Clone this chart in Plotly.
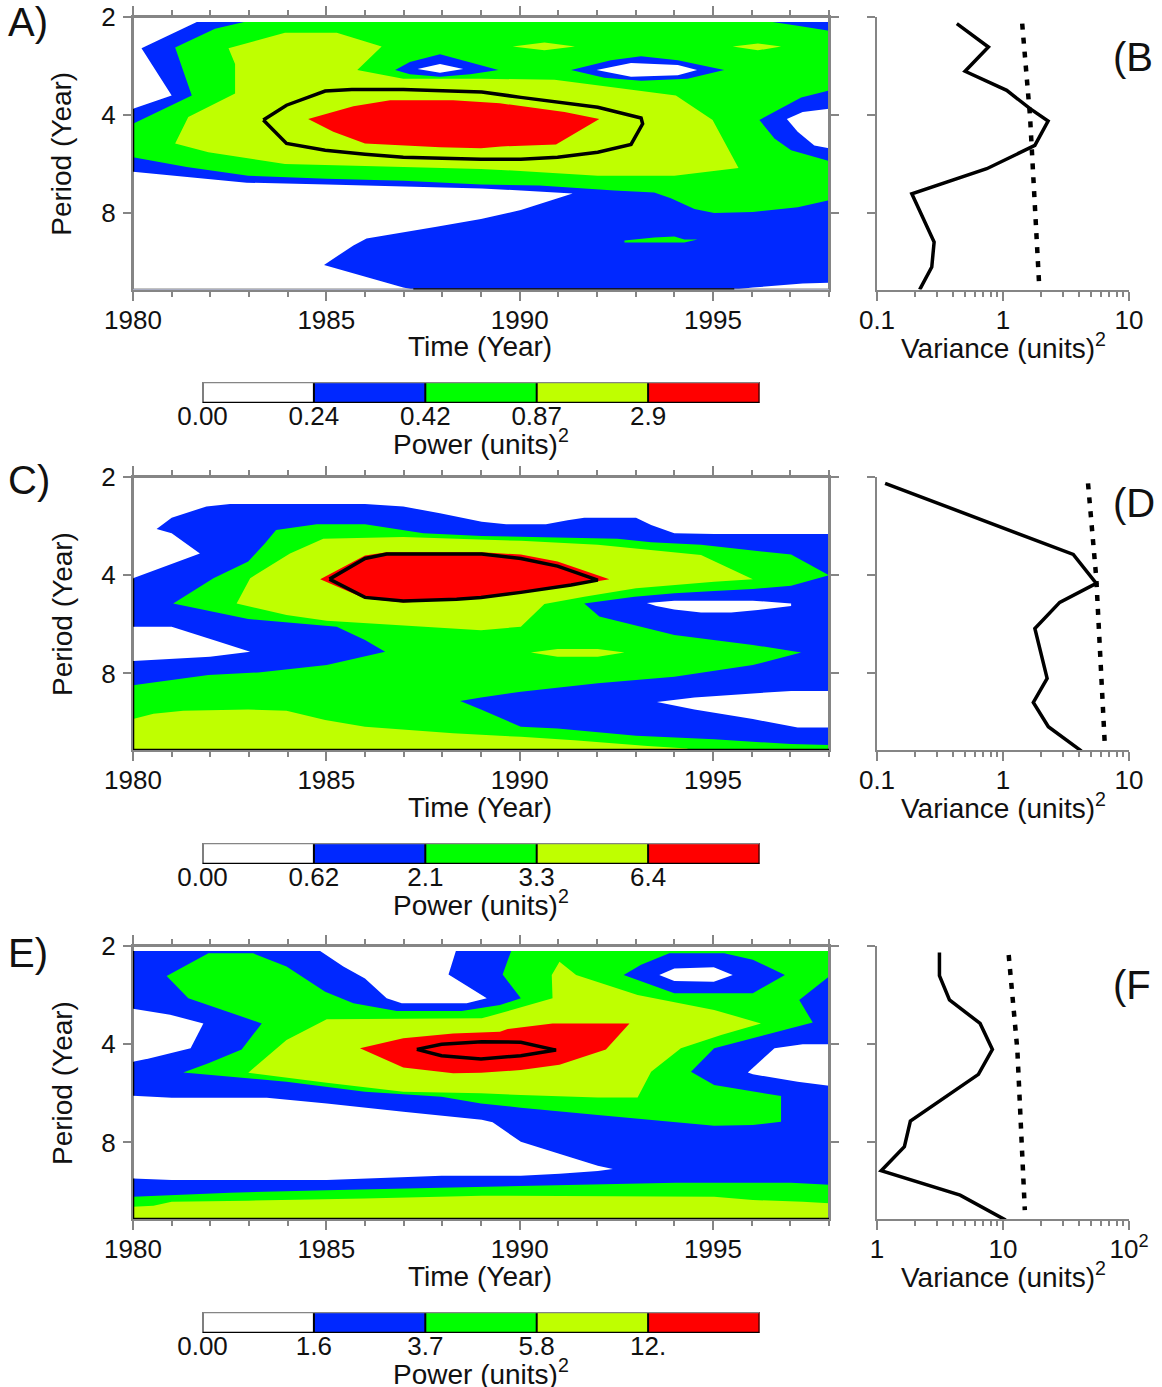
import math
import plotly.graph_objects as go

# ---------- colours and levels ----------
WHITE, BLUE, GREEN, YELLOW, RED = "#ffffff", "#0028ff", "#00ff00", "#bfff00", "#ff0000"
GRAY = "#858585"
FONT = "Liberation Sans"
CELL_COLORS = [WHITE, BLUE, GREEN, YELLOW, RED]
YEAR_MIN, YEAR_MAX = 1980, 1998
LOG2_TOP, LOG2_BOTTOM = 1, 3.78            # log2(period): 2 yr ... ~13.7 yr
PERIOD_TICKS = [1, 2, 3]
PERIOD_LABELS = ["2", "4", "8"]

# ---------- contour regions, (year, log2 period) ----------
FULL_FIELD = [(1980, 1.05), (1998, 1.05), (1998, 3.78), (1980, 3.78)]

A_WHITE_TL = [(1980, 1.05), (1981.65, 1.05), (1980.22, 1.32), (1981.0, 1.80), (1980, 1.935)]
A_WHITE_MAIN = [(1980, 2.58), (1981.39, 2.63), (1982.94, 2.69), (1985.01, 2.71), (1986.99, 2.73), (1989.02, 2.75),
                (1990.03, 2.77), (1991.37, 2.80), (1990.03, 2.97), (1989.0, 3.06), (1987.85, 3.14), (1986.04, 3.26),
                (1985.70, 3.33), (1984.94, 3.53), (1986.99, 3.76), (1987.25, 3.78), (1980, 3.78)]
A_WHITE_BR = [(1995.55, 3.78), (1996.03, 3.76), (1997.32, 3.72), (1998, 3.71), (1998, 3.78)]
A_GREEN = [(1982.87, 1.05), (1996.54, 1.05), (1997.19, 1.09), (1998, 1.14), (1998, 2.87), (1997.19, 2.94), (1996.03, 2.99),
           (1995.03, 3.00), (1994.52, 2.96), (1993.91, 2.85), (1993.48, 2.79), (1992.45, 2.77), (1990.51, 2.72),
           (1989.0, 2.71), (1986.99, 2.67), (1985.01, 2.65), (1982.98, 2.62), (1981.39, 2.53), (1980, 2.43), (1980, 2.09),
           (1981.52, 1.80), (1981.09, 1.31), (1982.12, 1.12)]
A_BLUE_1 = [(1986.78, 1.54), (1987.16, 1.46), (1987.94, 1.38), (1988.72, 1.46), (1989.45, 1.54), (1988.72, 1.585),
            (1987.94, 1.61), (1987.16, 1.585)]
A_WHITE_1 = [(1987.36, 1.53), (1987.94, 1.48), (1988.54, 1.53), (1987.94, 1.57)]
A_BLUE_2 = [(1991.33, 1.54), (1992.36, 1.44), (1993.14, 1.40), (1994.09, 1.44), (1995.29, 1.54), (1994.34, 1.63),
            (1993.14, 1.65), (1992.19, 1.62)]
A_WHITE_2 = [(1991.99, 1.54), (1992.88, 1.47), (1994.09, 1.49), (1994.59, 1.54), (1994.09, 1.595), (1992.88, 1.61)]
A_BLUE_3 = [(1998, 1.75), (1997.28, 1.82), (1996.20, 2.05), (1996.59, 2.24), (1997.02, 2.36), (1998, 2.47)]
A_WHITE_3 = [(1998, 1.935), (1997.32, 1.97), (1996.91, 2.04), (1997.19, 2.17), (1997.62, 2.31), (1998, 2.34)]
A_YELLOW = [(1982.47, 1.32), (1983.93, 1.16), (1985.27, 1.16), (1986.43, 1.30), (1985.80, 1.54), (1986.99, 1.63),
            (1989, 1.63), (1990.90, 1.64), (1992.45, 1.72), (1994.04, 1.80), (1994.99, 2.05), (1995.66, 2.54), (1994, 2.62),
            (1992.02, 2.62), (1989.52, 2.56), (1989, 2.55), (1986, 2.52), (1983.93, 2.50), (1981.95, 2.38), (1981.09, 2.29),
            (1981.43, 2.02), (1982.64, 1.78), (1982.64, 1.48)]
A_YELLOW_P1 = [(1989.82, 1.30), (1990.64, 1.26), (1991.43, 1.30), (1990.64, 1.34)]
A_YELLOW_P2 = [(1995.51, 1.30), (1996.16, 1.27), (1996.76, 1.30), (1996.16, 1.34)]
A_GREEN_P = [(1992.71, 3.28), (1993.48, 3.25), (1994, 3.24), (1994.26, 3.27), (1994.60, 3.27), (1994.26, 3.30), (1992.71, 3.30)]
A_RED = [(1984.53, 2.04), (1985.70, 1.91), (1986.65, 1.85), (1988.28, 1.85), (1989.49, 1.88), (1989.86, 1.90), (1991.16, 1.97),
         (1992.06, 2.04), (1990.94, 2.30), (1989.52, 2.32), (1989, 2.34), (1987.94, 2.33), (1986, 2.29), (1985.18, 2.17)]
A_CONTOUR = [(1983.37, 2.05), (1983.97, 1.90), (1984.97, 1.755), (1985.66, 1.74), (1986.99, 1.74), (1989.02, 1.765),
             (1990.03, 1.82), (1992.02, 1.92), (1993.14, 2.03), (1993.18, 2.09), (1992.88, 2.30), (1992.02, 2.38),
             (1990.98, 2.43), (1990.03, 2.45), (1989, 2.45), (1986.99, 2.43), (1986, 2.40), (1984.97, 2.36), (1983.97, 2.29),
             (1983.37, 2.05)]
A_LAYERS = [(BLUE, FULL_FIELD), (WHITE, A_WHITE_TL), (WHITE, A_WHITE_MAIN), (WHITE, A_WHITE_BR), (GREEN, A_GREEN),
            (BLUE, A_BLUE_1), (WHITE, A_WHITE_1), (BLUE, A_BLUE_2), (WHITE, A_WHITE_2), (BLUE, A_BLUE_3), (WHITE, A_WHITE_3),
            (YELLOW, A_YELLOW), (YELLOW, A_YELLOW_P1), (YELLOW, A_YELLOW_P2), (GREEN, A_GREEN_P), (RED, A_RED)]
A_EDGES = [([1980, 1980], [1.935, 2.58]), ([1987.25, 1995.55], [3.78, 3.78])]

C_BLUE = [(1980.61, 1.53), (1981, 1.414), (1981.90, 1.30), (1982.51, 1.275), (1986, 1.275), (1986.99, 1.30), (1987.94, 1.37),
          (1989.02, 1.455), (1989.65, 1.48), (1990.68, 1.48), (1991.24, 1.44), (1991.67, 1.414), (1993.01, 1.414),
          (1993.40, 1.49), (1994, 1.574), (1995.03, 1.58), (1998, 1.58), (1998, 3.78), (1980, 3.78), (1980, 2.03),
          (1981.73, 1.78), (1981, 1.574)]
C_WHITE_1 = [(1980, 2.525), (1981, 2.525), (1982.08, 2.66), (1983.03, 2.78), (1981.99, 2.83), (1980, 2.874)]
C_WHITE_2 = [(1993.29, 2.284), (1994, 2.26), (1996.03, 2.26), (1997.02, 2.287), (1997.02, 2.314), (1996.16, 2.355),
             (1995.47, 2.38), (1994.69, 2.38), (1994, 2.348), (1993.53, 2.314)]
C_WHITE_3 = [(1993.55, 3.29), (1994.52, 3.245), (1996.03, 3.204), (1997.02, 3.18), (1998, 3.18), (1998, 3.55), (1997.19, 3.55),
             (1996.03, 3.465), (1994.52, 3.367)]
C_GREEN = [(1981.04, 2.287), (1982.08, 2.03), (1982.98, 1.86), (1983.41, 1.676), (1983.70, 1.54), (1984.75, 1.48), (1986, 1.48),
           (1987.51, 1.574), (1989.02, 1.60), (1990.03, 1.61), (1992.53, 1.63), (1993.40, 1.665), (1994.69, 1.69), (1997.02, 1.79),
           (1997.36, 1.86), (1998, 2.0), (1997.02, 2.107), (1996.03, 2.14), (1995.03, 2.16), (1994, 2.185), (1992.97, 2.22),
           (1991.67, 2.287), (1992.06, 2.42), (1994, 2.61), (1996.03, 2.71), (1997.28, 2.786), (1996.03, 2.915), (1994, 3.034),
           (1992.02, 3.10), (1990.03, 3.187), (1989, 3.245), (1988.46, 3.28), (1989, 3.367), (1990.03, 3.543), (1990.98, 3.56),
           (1993.01, 3.635), (1995.03, 3.67), (1997.02, 3.72), (1998, 3.73), (1998, 3.78), (1980, 3.78), (1980, 3.12),
           (1981.95, 3.017), (1983.24, 2.99), (1985.01, 2.915), (1986.52, 2.78), (1986, 2.66), (1985.27, 2.525), (1982.98, 2.446)]
C_YELLOW = [(1982.68, 2.287), (1983.03, 2.03), (1984.06, 1.78), (1984.92, 1.63), (1986.99, 1.61), (1989.49, 1.64), (1990.03, 1.65),
            (1992.02, 1.69), (1994, 1.767), (1994.69, 1.795), (1996.03, 2.04), (1995.03, 2.066), (1993.01, 2.134), (1991.67, 2.22),
            (1990.64, 2.294), (1990.03, 2.525), (1989, 2.56), (1986.99, 2.51), (1985.01, 2.463), (1983.97, 2.406)]
C_YELLOW_LOW = [(1980, 3.465), (1980.53, 3.41), (1981.30, 3.38), (1982.98, 3.367), (1983.97, 3.38), (1984.97, 3.475), (1986, 3.543),
                (1988.28, 3.61), (1989.49, 3.635), (1990.03, 3.645), (1991.41, 3.68), (1993.31, 3.74), (1994.34, 3.764),
                (1994.34, 3.78), (1980, 3.78)]
C_YELLOW_P = [(1990.29, 2.786), (1990.98, 2.752), (1992.02, 2.752), (1992.71, 2.786), (1992.02, 2.83), (1990.98, 2.83)]
C_RED = [(1984.84, 2.04), (1986, 1.80), (1986.56, 1.767), (1989.02, 1.767), (1990.03, 1.79), (1990.98, 1.86), (1992.32, 2.04),
         (1991.59, 2.09), (1990.03, 2.185), (1989, 2.236), (1988.28, 2.25), (1986.99, 2.277), (1986, 2.236)]
C_CONTOUR = [(1985.08, 2.04), (1986, 1.83), (1986.56, 1.785), (1989.02, 1.785), (1990.03, 1.83), (1990.98, 1.907), (1992.02, 2.05),
             (1991.33, 2.10), (1990.03, 2.175), (1989, 2.226), (1988.37, 2.246), (1986.99, 2.263), (1986, 2.226), (1985.08, 2.04)]
C_LAYERS = [(BLUE, C_BLUE), (WHITE, C_WHITE_1), (WHITE, C_WHITE_2), (WHITE, C_WHITE_3), (GREEN, C_GREEN), (YELLOW, C_YELLOW),
            (YELLOW, C_YELLOW_LOW), (YELLOW, C_YELLOW_P), (RED, C_RED)]
C_EDGES = [([1980, 1980], [2.03, 2.525]), ([1980, 1980], [2.874, 3.78]), ([1980, 1998], [3.78, 3.78])]

E_WHITE_1 = [(1984.84, 1.05), (1985.44, 1.21), (1986, 1.33), (1986.56, 1.533), (1986.95, 1.584), (1988.63, 1.584), (1989.15, 1.533),
             (1988.16, 1.29), (1988.35, 1.05)]
E_WHITE_2 = [(1980, 1.64), (1980.96, 1.70), (1981.82, 1.788), (1981.49, 2.042), (1980.44, 2.144), (1980, 2.178)]
E_WHITE_3 = [(1980, 2.525), (1981, 2.545), (1983.46, 2.545), (1985.01, 2.603), (1986.99, 2.688), (1989.02, 2.77), (1989.30, 2.796),
             (1990.03, 2.993), (1990.98, 3.11), (1992.02, 3.238), (1992.41, 3.27), (1992.02, 3.29), (1991.03, 3.32), (1990.03, 3.34),
             (1989, 3.34), (1987.98, 3.34), (1985.01, 3.384), (1981, 3.384), (1980, 3.367)]
E_WHITE_4 = [(1995.90, 2.287), (1996.59, 2.042), (1997.32, 2.0), (1998, 2.0), (1998, 2.423), (1997.19, 2.382), (1996.03, 2.307)]
E_GREEN = [(1980.87, 1.305), (1981.95, 1.075), (1983.11, 1.075), (1983.97, 1.21), (1984.97, 1.465), (1985.70, 1.584), (1986.82, 1.662),
           (1988.50, 1.662), (1989.49, 1.60), (1990.03, 1.533), (1989.56, 1.29), (1989.78, 1.05), (1998, 1.05), (1998, 1.31),
           (1997.23, 1.55), (1997.58, 1.78), (1995.03, 2.042), (1994.43, 2.28), (1995.03, 2.416), (1996.76, 2.528), (1996.76, 2.79),
           (1996.03, 2.823), (1995.03, 2.83), (1994, 2.79), (1992.02, 2.72), (1990.03, 2.647), (1989, 2.603), (1987.98, 2.535),
           (1986, 2.484), (1983.97, 2.382), (1981.30, 2.287), (1981.95, 2.195), (1982.81, 2.053), (1983.33, 1.788), (1981.43, 1.533)]
E_BLUE_LENS = [(1992.69, 1.295), (1993.14, 1.19), (1993.87, 1.075), (1995.29, 1.075), (1996.03, 1.14), (1996.86, 1.295),
               (1996.03, 1.48), (1994, 1.48)]
E_WHITE_LENS = [(1993.61, 1.295), (1994, 1.23), (1995.02, 1.217), (1995.51, 1.295), (1995.02, 1.363), (1994, 1.357)]
E_YELLOW = [(1982.98, 2.29), (1983.97, 1.958), (1985.01, 1.747), (1989.02, 1.737), (1990.85, 1.533), (1990.83, 1.295), (1991.03, 1.16),
            (1991.46, 1.295), (1993.05, 1.50), (1995.03, 1.652), (1996.24, 1.788), (1995.21, 1.907), (1994.17, 2.042), (1993.40, 2.28),
            (1993.05, 2.542), (1992.02, 2.542), (1990.03, 2.518), (1989, 2.50), (1986.99, 2.484), (1985.01, 2.392)]
E_RED = [(1985.87, 2.042), (1986.99, 1.94), (1988.28, 1.89), (1989.49, 1.873), (1989.69, 1.845), (1990.85, 1.788), (1992.84, 1.788),
         (1992.23, 2.053), (1991.03, 2.21), (1990.03, 2.263), (1989, 2.29), (1988.28, 2.297), (1986.99, 2.236)]
E_CONTOUR = [(1987.34, 2.053), (1987.98, 2.0), (1989.02, 1.975), (1990.03, 1.98), (1990.94, 2.06), (1990.03, 2.117), (1989, 2.15),
             (1987.98, 2.117), (1987.34, 2.053)]
E_GREEN_LOW = [(1980, 3.553), (1982.51, 3.513), (1985.01, 3.486), (1986.99, 3.47), (1989.02, 3.45), (1992.02, 3.43), (1994.04, 3.41),
               (1997.02, 3.41), (1998, 3.43), (1998, 3.78), (1980, 3.78)]
E_YELLOW_LOW = [(1980, 3.655), (1980.53, 3.645), (1981, 3.604), (1982.98, 3.594), (1986, 3.57), (1989.02, 3.543), (1995.03, 3.553),
                (1996.03, 3.587), (1997.32, 3.604), (1998, 3.62), (1998, 3.78), (1980, 3.78)]
E_LAYERS = [(BLUE, FULL_FIELD), (WHITE, E_WHITE_1), (WHITE, E_WHITE_2), (WHITE, E_WHITE_3), (WHITE, E_WHITE_4), (GREEN, E_GREEN),
            (BLUE, E_BLUE_LENS), (WHITE, E_WHITE_LENS), (YELLOW, E_YELLOW), (GREEN, E_GREEN_LOW), (YELLOW, E_YELLOW_LOW), (RED, E_RED)]
E_EDGES = [([1980, 1980], [1.05, 1.64]), ([1980, 1980], [2.178, 2.525]), ([1980, 1980], [3.367, 3.78]), ([1980, 1998], [3.78, 3.78])]

# ---------- global wavelet spectra ----------
B_LOG2 = [1.068, 1.306, 1.554, 1.748, 1.935, 2.061, 2.31, 2.548, 2.803, 3.296, 3.551, 3.782]
B_VAR = [0.43, 0.766, 0.50, 1.07, 1.64, 2.28, 1.79, 0.743, 0.189, 0.284, 0.272, 0.218]
B_SIG_LOG2 = [1.068, 2.02, 3.70]
B_SIG = [1.42, 1.64, 1.93]
D_LOG2 = [1.065, 1.788, 2.083, 2.277, 2.542, 3.051, 3.295, 3.543, 3.791]
D_VAR = [0.116, 3.61, 5.5, 2.82, 1.79, 2.24, 1.74, 2.29, 4.2]
D_SIG_LOG2 = [1.065, 2.032, 3.696]
D_SIG = [4.73, 5.5, 6.41]
F_LOG2 = [1.065, 1.302, 1.55, 1.788, 2.053, 2.307, 2.783, 3.044, 3.289, 3.537, 3.791]
F_VAR = [3.13, 3.13, 3.76, 6.58, 8.24, 6.38, 1.84, 1.65, 1.08, 4.57, 10.5]
F_SIG_LOG2 = [1.092, 2.059, 3.689]
F_SIG = [11.1, 13.0, 14.9]

# ---------- axis labels ----------
YEAR_TICKS = [1980, 1985, 1990, 1995]
CB_A = ["0.00", "0.24", "0.42", "0.87", "2.9"]
CB_C = ["0.00", "0.62", "2.1", "3.3", "6.4"]
CB_E = ["0.00", "1.6", "3.7", "5.8", "12."]
VAR_TICKS_AC = [0.1, 1, 10]
VAR_LABELS_AC = ["0.1", "1", "10"]
VAR_MINOR_AC = [0.2, 0.3, 0.4, 0.5, 0.6, 0.7, 0.8, 0.9, 2, 3, 4, 5, 6, 7, 8, 9]
VAR_TICKS_E = [1, 10, 100]
VAR_LABELS_E = ["1", "10", "10<sup>2</sup>"]
VAR_MINOR_E = [2, 3, 4, 5, 6, 7, 8, 9, 20, 30, 40, 50, 60, 70, 80, 90]
MARK_YEAR = 1986.3
MARK_LOG2 = 0.905

W, H = 1162, 1387
fig = go.Figure()
ann = []


def dom_x(a, b):
    return [a / W, b / W]


def dom_y(top, bottom):
    return [1 - bottom / H, 1 - top / H]


def text(s, x, y, size, angle=0, xanchor="center"):
    ann.append(dict(text=s, x=x / W, y=1 - y / H, xref="paper", yref="paper", showarrow=False, textangle=angle,
                    xanchor=xanchor, yanchor="middle", font=dict(family=FONT, size=size, color="#111111"), borderpad=0))


layout = {}
PANELS = [
    (1, 17, 289.5, A_LAYERS, A_CONTOUR, A_EDGES, B_VAR, B_LOG2, B_SIG, B_SIG_LOG2, CB_A, VAR_TICKS_AC, VAR_LABELS_AC, VAR_MINOR_AC, 382, "A)", "(B", 22, 57),
    (4, 477, 750, C_LAYERS, C_CONTOUR, C_EDGES, D_VAR, D_LOG2, D_SIG, D_SIG_LOG2, CB_C, VAR_TICKS_AC, VAR_LABELS_AC, VAR_MINOR_AC, 843, "C)", "(D", 480, 503),
    (7, 946, 1219, E_LAYERS, E_CONTOUR, E_EDGES, F_VAR, F_LOG2, F_SIG, F_SIG_LOG2, CB_E, VAR_TICKS_E, VAR_LABELS_E, VAR_MINOR_E, 1312, "E)", "(F", 953, 985),
]
for (n, top, bot, layers, contour, edges, var, var_y, sig, sig_y, cb, vt, vl, vm, cb_top, lab_l, lab_r, ly_l, ly_r) in PANELS:
    ax, ay = f"x{n}", f"y{n}"
    for color, poly in layers:
        fig.add_trace(go.Scatter(x=[p[0] for p in poly], y=[p[1] for p in poly], xaxis=ax, yaxis=ay, mode="lines",
                                 fill="toself", fillcolor=color, line=dict(width=0), hoverinfo="skip", showlegend=False))
    # frame, filled-area edges, significant contour, dot above the frame
    fig.add_trace(go.Scatter(x=[YEAR_MIN, YEAR_MAX, YEAR_MAX, YEAR_MIN, YEAR_MIN], y=[LOG2_TOP, LOG2_TOP, LOG2_BOTTOM, LOG2_BOTTOM, LOG2_TOP],
                             xaxis=ax, yaxis=ay, mode="lines", line=dict(color=GRAY, width=2), cliponaxis=False, hoverinfo="skip", showlegend=False))
    for ex, ey in edges:
        fig.add_trace(go.Scatter(x=ex, y=ey, xaxis=ax, yaxis=ay, mode="lines", line=dict(color="#000000", width=2.5), cliponaxis=False,
                                 hoverinfo="skip", showlegend=False))
    fig.add_trace(go.Scatter(x=[p[0] for p in contour], y=[p[1] for p in contour], xaxis=ax, yaxis=ay, mode="lines",
                             line=dict(color="#000000", width=3.5), hoverinfo="skip", showlegend=False))
    fig.add_trace(go.Scatter(x=[MARK_YEAR], y=[MARK_LOG2], xaxis=ax, yaxis=ay, mode="markers", cliponaxis=False,
                             marker=dict(color="#000000", size=3), hoverinfo="skip", showlegend=False))
    layout[f"xaxis{n}"] = dict(domain=dom_x(133, 829), range=[YEAR_MIN, YEAR_MAX], anchor=ay, tickmode="array", tickvals=YEAR_TICKS,
                               ticks="outside", ticklen=9, tickwidth=1.5, tickcolor=GRAY, showgrid=False, zeroline=False, automargin=False,
                               showline=True, linecolor=GRAY, linewidth=2, mirror="allticks", layer="below traces",
                               tickfont=dict(family=FONT, size=26, color="#111111"), ticklabelstandoff=-3,
                               minor=dict(dtick=1, tick0=1980, ticks="outside", ticklen=5, tickwidth=1.5, tickcolor=GRAY, showgrid=False))
    layout[f"yaxis{n}"] = dict(domain=dom_y(top, bot), range=[LOG2_BOTTOM, LOG2_TOP], anchor=ax, tickmode="array", tickvals=PERIOD_TICKS,
                               ticktext=PERIOD_LABELS, ticks="outside", ticklen=8, tickwidth=1.5, tickcolor=GRAY, showgrid=False,
                               zeroline=False, automargin=False, showline=True, linecolor=GRAY, linewidth=2, mirror="allticks", layer="below traces",
                               tickfont=dict(family=FONT, size=26, color="#111111"), ticklabelstandoff=2)
    # side spectrum
    ax2, ay2 = f"x{n+1}", f"y{n+1}"
    fig.add_trace(go.Scatter(x=var, y=var_y, xaxis=ax2, yaxis=ay2, mode="lines", line=dict(color="#000000", width=3.5),
                             cliponaxis=False, hoverinfo="skip", showlegend=False))
    fig.add_trace(go.Scatter(x=sig, y=sig_y, xaxis=ax2, yaxis=ay2, mode="lines", line=dict(color="#000000", width=4.5, dash="6px,8px"),
                             cliponaxis=False, hoverinfo="skip", showlegend=False))
    layout[f"xaxis{n+1}"] = dict(domain=dom_x(877, 1129), type="log", range=[math.log10(vt[0]), math.log10(vt[-1])], anchor=ay2, tickmode="array",
                                 tickvals=vt, ticktext=vl, ticks="outside", ticklen=9, tickwidth=1.5, tickcolor=GRAY, showgrid=False,
                                 zeroline=False, automargin=False, showline=True, linecolor=GRAY, linewidth=2,
                                 tickfont=dict(family=FONT, size=26, color="#111111"), ticklabelstandoff=-3,
                                 minor=dict(tickmode="array", tickvals=vm, ticks="outside", ticklen=5, tickwidth=1.5, tickcolor=GRAY, showgrid=False))
    layout[f"yaxis{n+1}"] = dict(domain=dom_y(top, bot), range=[LOG2_BOTTOM, LOG2_TOP], anchor=ax2, tickmode="array", tickvals=PERIOD_TICKS,
                                 showticklabels=False, ticks="outside", ticklen=8, tickwidth=1.5, tickcolor=GRAY, showgrid=False,
                                 zeroline=False, automargin=False, showline=True, linecolor=GRAY, linewidth=2)
    # colour key
    ax3, ay3 = f"x{n+2}", f"y{n+2}"
    cells = list(range(5))
    fig.add_trace(go.Bar(x=[c + 0.5 for c in cells], y=[1] * 5, width=[1] * 5, xaxis=ax3, yaxis=ay3, marker=dict(color=CELL_COLORS, line=dict(width=0)),
                         hoverinfo="skip", showlegend=False))
    for c in cells + [5]:
        fig.add_trace(go.Scatter(x=[c, c], y=[0, 1], xaxis=ax3, yaxis=ay3, mode="lines", line=dict(color="#000000", width=2), cliponaxis=False,
                                 hoverinfo="skip", showlegend=False))
    fig.add_trace(go.Scatter(x=[0, 5], y=[0, 0], xaxis=ax3, yaxis=ay3, mode="lines", line=dict(color="#000000", width=2.5), cliponaxis=False,
                             hoverinfo="skip", showlegend=False))
    fig.add_trace(go.Scatter(x=[0, 5], y=[1, 1], xaxis=ax3, yaxis=ay3, mode="lines", line=dict(color=GRAY, width=2.5), cliponaxis=False,
                             hoverinfo="skip", showlegend=False))
    layout[f"xaxis{n+2}"] = dict(domain=dom_x(202.5, 759.5), range=[0, 5], anchor=ay3, tickmode="array", tickvals=cells, ticktext=cb, ticks="",
                                 showgrid=False, zeroline=False, automargin=False, showline=False, ticklabelstandoff=-5,
                                 tickfont=dict(family=FONT, size=26, color="#111111"))
    layout[f"yaxis{n+2}"] = dict(domain=dom_y(cb_top, cb_top + 21), range=[0, 1], anchor=ax3, visible=False, showgrid=False, automargin=False)
    # texts
    text("Period (Year)", 62, (top + bot) / 2 + 0.5, 28, angle=-90)
    text("Time (Year)", 480, bot + 57, 28)
    text("Variance (units)<sup>2</sup>", 1003, bot + 56, 28)
    text("Power (units)<sup>2</sup>", 481, cb_top + 60, 28)
    text(lab_l, 7, ly_l, 40, xanchor="left")
    text(lab_r, 1112, ly_r, 40, xanchor="left")

fig.update_layout(width=W, height=H, autosize=False, margin=dict(l=0, r=0, t=0, b=0, autoexpand=False), paper_bgcolor="white", plot_bgcolor="white",
                  showlegend=False, annotations=ann, barmode="overlay", bargap=0, **layout)
fig.write_html("out.html", post_script="document.body.style.margin='0';", config={"displayModeBar": False})
